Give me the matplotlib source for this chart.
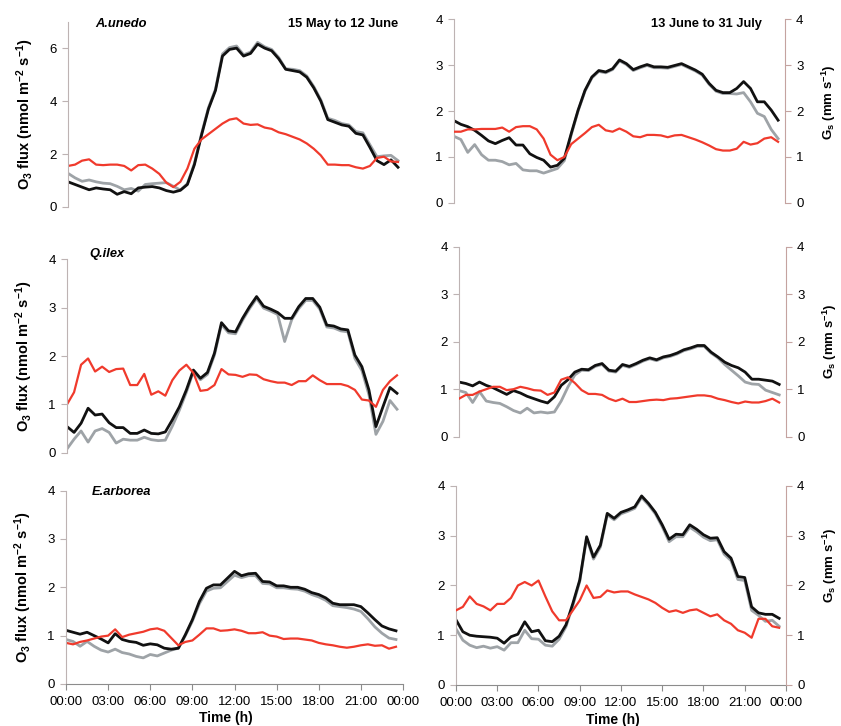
import matplotlib.pyplot as plt
import numpy as np

plt.rcParams['font.family'] = 'Liberation Sans'
plt.rcParams['mathtext.fontset'] = 'custom'
plt.rcParams['mathtext.rm'] = 'Liberation Sans'
plt.rcParams['mathtext.bf'] = 'Liberation Sans:bold'
plt.rcParams['mathtext.default'] = 'bf'

# half-hourly means, 00:00 .. 23:30
hours = np.arange(48) * 0.5
tick_hours = [0, 3, 6, 9, 12, 15, 18, 21, 24]
tick_labels = ['00:00', '03:00', '06:00', '09:00', '12:00', '15:00', '18:00', '21:00', '00:00']

# A. unedo, 15 May to 12 June
au1_total = [0.95, 0.85, 0.75, 0.65, 0.72, 0.68, 0.65, 0.48, 0.58, 0.50, 0.72, 0.75, 0.77, 0.72, 0.62, 0.56,
             0.63, 0.85, 1.60, 2.70, 3.70, 4.40, 5.70, 5.95, 6.00, 5.70, 5.80, 6.15, 6.00, 5.90, 5.60, 5.20,
             5.15, 5.10, 4.90, 4.50, 4.00, 3.30, 3.20, 3.10, 3.05, 2.78, 2.72, 2.25, 1.75, 1.60, 1.78, 1.50]
au1_stom = [1.27, 1.10, 0.97, 1.02, 0.95, 0.90, 0.88, 0.78, 0.65, 0.70, 0.60, 0.85, 0.88, 0.90, 0.92, 0.78,
            0.64, 0.88, 1.65, 2.75, 3.75, 4.45, 5.78, 6.02, 6.08, 5.75, 5.85, 6.22, 6.05, 5.95, 5.65, 5.22,
            5.20, 5.15, 4.95, 4.55, 4.05, 3.35, 3.27, 3.15, 3.10, 2.85, 2.80, 2.35, 1.90, 1.93, 1.95, 1.75]
au1_gs = [1.55, 1.60, 1.75, 1.80, 1.60, 1.58, 1.60, 1.60, 1.55, 1.38, 1.58, 1.60, 1.45, 1.25, 0.92, 0.75,
          0.95, 1.45, 2.20, 2.55, 2.75, 2.95, 3.15, 3.30, 3.35, 3.15, 3.10, 3.12, 3.00, 2.95, 2.82, 2.75,
          2.65, 2.55, 2.40, 2.20, 1.95, 1.60, 1.60, 1.58, 1.58, 1.50, 1.45, 1.55, 1.85, 1.90, 1.72, 1.70]

# A. unedo, 13 June to 31 July
au2_total = [1.79, 1.71, 1.66, 1.58, 1.47, 1.35, 1.29, 1.36, 1.42, 1.26, 1.26, 1.07, 0.99, 0.93, 0.78, 0.82,
             0.97, 1.51, 2.02, 2.45, 2.74, 2.88, 2.85, 2.92, 3.11, 3.03, 2.90, 2.96, 3.01, 2.96, 2.96, 2.95,
             2.99, 3.03, 2.96, 2.89, 2.80, 2.60, 2.45, 2.40, 2.40, 2.49, 2.64, 2.49, 2.20, 2.20, 2.02, 1.80]
au2_stom = [1.45, 1.38, 1.10, 1.27, 1.05, 0.93, 0.93, 0.90, 0.83, 0.86, 0.72, 0.70, 0.70, 0.65, 0.70, 0.75,
            0.92, 1.48, 2.00, 2.43, 2.72, 2.86, 2.83, 2.90, 3.09, 3.01, 2.88, 2.94, 2.99, 2.94, 2.94, 2.93,
            2.97, 3.01, 2.94, 2.87, 2.78, 2.58, 2.43, 2.38, 2.38, 2.37, 2.40, 2.20, 1.95, 1.88, 1.60, 1.40]
au2_gs = [1.55, 1.55, 1.60, 1.60, 1.61, 1.61, 1.61, 1.64, 1.55, 1.65, 1.67, 1.67, 1.60, 1.40, 1.05, 0.93,
          1.00, 1.28, 1.40, 1.52, 1.65, 1.70, 1.58, 1.55, 1.62, 1.55, 1.45, 1.43, 1.48, 1.48, 1.47, 1.43,
          1.47, 1.48, 1.43, 1.38, 1.32, 1.25, 1.17, 1.14, 1.14, 1.18, 1.33, 1.27, 1.30, 1.40, 1.43, 1.33]

# Q. ilex
qi1_total = [0.54, 0.42, 0.61, 0.92, 0.78, 0.80, 0.62, 0.52, 0.52, 0.40, 0.40, 0.47, 0.40, 0.39, 0.43, 0.68,
             0.95, 1.30, 1.71, 1.54, 1.66, 2.06, 2.69, 2.52, 2.50, 2.78, 3.02, 3.23, 3.03, 2.97, 2.90, 2.78,
             2.78, 3.02, 3.19, 3.19, 3.01, 2.64, 2.62, 2.56, 2.54, 2.02, 1.78, 1.30, 0.54, 0.95, 1.35, 1.23]
qi1_stom = [0.08, 0.28, 0.45, 0.22, 0.45, 0.50, 0.42, 0.20, 0.28, 0.26, 0.26, 0.32, 0.27, 0.25, 0.26, 0.55,
            0.88, 1.25, 1.68, 1.51, 1.62, 2.02, 2.65, 2.48, 2.46, 2.74, 2.98, 3.19, 2.99, 2.93, 2.86, 2.30,
            2.75, 2.98, 3.15, 3.15, 2.97, 2.60, 2.58, 2.52, 2.50, 1.95, 1.70, 1.20, 0.38, 0.65, 1.08, 0.90]
qi1_gs = [1.00, 1.25, 1.82, 1.95, 1.68, 1.78, 1.67, 1.73, 1.74, 1.40, 1.40, 1.63, 1.20, 1.27, 1.18, 1.50,
          1.70, 1.82, 1.65, 1.28, 1.30, 1.40, 1.73, 1.62, 1.61, 1.57, 1.62, 1.61, 1.52, 1.48, 1.45, 1.45,
          1.40, 1.48, 1.48, 1.60, 1.50, 1.42, 1.42, 1.42, 1.38, 1.30, 1.10, 1.08, 0.95, 1.30, 1.48, 1.60]

qi2_total = [1.15, 1.12, 1.07, 1.15, 1.08, 1.03, 0.96, 0.89, 0.97, 0.92, 0.85, 0.80, 0.75, 0.71, 0.84, 1.08,
             1.20, 1.36, 1.42, 1.41, 1.50, 1.54, 1.40, 1.38, 1.52, 1.48, 1.54, 1.61, 1.66, 1.62, 1.68, 1.71,
             1.76, 1.83, 1.87, 1.92, 1.92, 1.78, 1.68, 1.57, 1.50, 1.45, 1.36, 1.21, 1.21, 1.19, 1.17, 1.10]
qi2_stom = [0.97, 0.93, 0.72, 0.95, 0.75, 0.72, 0.70, 0.63, 0.55, 0.50, 0.60, 0.50, 0.52, 0.50, 0.52, 0.75,
            1.05, 1.30, 1.40, 1.39, 1.48, 1.52, 1.38, 1.36, 1.50, 1.46, 1.52, 1.59, 1.64, 1.60, 1.66, 1.69,
            1.74, 1.81, 1.85, 1.90, 1.90, 1.76, 1.66, 1.52, 1.40, 1.28, 1.15, 1.11, 1.10, 0.98, 0.93, 0.88]
qi2_gs = [0.80, 0.88, 0.88, 0.95, 1.00, 1.05, 1.05, 0.98, 1.00, 1.05, 1.02, 0.98, 0.97, 0.88, 0.93, 1.20,
          1.25, 1.13, 0.98, 0.90, 0.90, 0.88, 0.80, 0.75, 0.80, 0.73, 0.73, 0.75, 0.77, 0.78, 0.77, 0.80,
          0.81, 0.83, 0.85, 0.87, 0.87, 0.85, 0.80, 0.77, 0.73, 0.70, 0.74, 0.72, 0.72, 0.75, 0.80, 0.72]

# E. arborea
ea1_total = [1.11, 1.07, 1.03, 1.07, 1.00, 0.93, 0.85, 1.04, 0.92, 0.88, 0.86, 0.80, 0.83, 0.81, 0.74, 0.72,
             0.74, 1.02, 1.33, 1.71, 1.98, 2.05, 2.05, 2.19, 2.33, 2.24, 2.28, 2.29, 2.12, 2.11, 2.03, 2.03,
             2.00, 2.00, 1.96, 1.89, 1.85, 1.78, 1.67, 1.64, 1.64, 1.64, 1.60, 1.47, 1.33, 1.20, 1.14, 1.10]
ea1_stom = [0.92, 0.88, 0.78, 0.88, 0.78, 0.70, 0.66, 0.72, 0.65, 0.62, 0.57, 0.54, 0.61, 0.58, 0.64, 0.70,
            0.74, 1.00, 1.30, 1.66, 1.92, 1.98, 1.99, 2.12, 2.25, 2.20, 2.24, 2.24, 2.08, 2.07, 1.99, 1.99,
            1.97, 1.96, 1.92, 1.85, 1.80, 1.73, 1.62, 1.60, 1.58, 1.55, 1.50, 1.35, 1.18, 1.05, 0.95, 0.92]
ea1_gs = [0.85, 0.82, 0.87, 0.90, 0.94, 0.98, 1.00, 1.13, 0.97, 1.02, 1.05, 1.08, 1.13, 1.15, 1.10, 0.95,
          0.80, 0.87, 0.90, 1.02, 1.15, 1.15, 1.10, 1.11, 1.13, 1.10, 1.05, 1.05, 1.07, 1.00, 0.98, 0.93,
          0.94, 0.94, 0.92, 0.90, 0.85, 0.82, 0.80, 0.77, 0.75, 0.77, 0.80, 0.82, 0.79, 0.80, 0.73, 0.77]

ea2_total = [1.31, 1.07, 1.00, 0.98, 0.97, 0.96, 0.94, 0.84, 0.97, 1.02, 1.27, 1.07, 1.10, 0.89, 0.87, 0.98,
             1.21, 1.64, 2.11, 2.98, 2.57, 2.81, 3.45, 3.35, 3.47, 3.52, 3.58, 3.80, 3.65, 3.47, 3.22, 2.93,
             3.03, 3.02, 3.22, 3.13, 3.02, 2.95, 2.96, 2.68, 2.55, 2.18, 2.16, 1.57, 1.45, 1.42, 1.42, 1.34]
ea2_stom = [1.13, 0.90, 0.80, 0.75, 0.78, 0.74, 0.77, 0.70, 0.85, 0.85, 1.10, 0.93, 0.92, 0.80, 0.78, 0.92,
            1.17, 1.60, 2.08, 2.95, 2.53, 2.77, 3.42, 3.32, 3.44, 3.49, 3.55, 3.77, 3.62, 3.44, 3.18, 2.88,
            2.98, 2.98, 3.17, 3.08, 2.97, 2.90, 2.92, 2.63, 2.50, 2.12, 2.10, 1.50, 1.40, 1.28, 1.30, 1.18]
ea2_gs = [1.50, 1.57, 1.78, 1.63, 1.58, 1.50, 1.63, 1.63, 1.75, 2.00, 2.07, 2.00, 2.10, 1.78, 1.48, 1.30,
          1.30, 1.50, 1.70, 2.00, 1.75, 1.77, 1.90, 1.86, 1.88, 1.88, 1.82, 1.77, 1.72, 1.65, 1.55, 1.47,
          1.50, 1.45, 1.50, 1.52, 1.45, 1.38, 1.42, 1.30, 1.23, 1.10, 1.05, 0.95, 1.33, 1.33, 1.18, 1.15]

BLACK = '#111111'
GREY = '#9ea3a7'
RED = '#f03a2c'
LSPINE = '#bdb3b3'
RSPINE = '#c4a3a0'
BSPINE = '#8c8c8c'

O3_LABEL = r'O$_3$ flux (nmol m$^{-2}$ s$^{-1}$)'
GS_LABEL = r'G$_s$ (mm s$^{-1}$)'

fig = plt.figure(figsize=(8.41, 7.26), dpi=100)


def panel(rect, total, stom, gs, ymax, yticks, right, bottom, gs_label_y=0.5):
    ax = fig.add_axes(rect)
    ax.plot(hours, stom, color=GREY, lw=2.0)
    ax.plot(hours, total, color=BLACK, lw=2.0)
    ax.set_xlim(0, 24)
    ax.set_ylim(0, ymax)
    ax.set_yticks(yticks)
    ax.spines['top'].set_visible(False)
    ax.spines['right'].set_visible(False)
    ax.spines['left'].set_color(LSPINE)
    ax.tick_params(axis='y', colors=LSPINE, labelcolor='black', labelsize=9.5,
                   direction='out', length=4, pad=4)
    if bottom:
        ax.spines['bottom'].set_color(BSPINE)
        ax.set_xticks(tick_hours)
        ax.set_xticklabels(tick_labels)
        ax.tick_params(axis='x', colors=BSPINE, labelcolor='black', labelsize=9.5,
                       direction='out', length=4, pad=5)
        ax.set_xlabel('Time (h)', fontsize=10, fontweight='bold')
        ax.xaxis.set_label_coords(0.474, -0.142)
    else:
        ax.spines['bottom'].set_visible(False)
        ax.set_xticks([])
    if right:
        ax2 = ax.twinx()
        ax2.plot(hours, gs, color=RED, lw=1.6)
        ax2.set_ylim(0, 4)
        ax2.set_yticks([0, 1, 2, 3, 4])
        for s in ['top', 'left', 'bottom']:
            ax2.spines[s].set_visible(False)
        ax2.spines['right'].set_color(RSPINE)
        ax2.tick_params(axis='y', colors=RSPINE, labelcolor='black', labelsize=9.5,
                        direction='out', length=4, pad=4)
        ax2.set_ylabel(GS_LABEL, fontsize=9.5, fontweight='bold')
        ax2.yaxis.set_label_coords(1.106, gs_label_y)
    else:
        ax.plot(hours, gs, color=RED, lw=1.6)
        ax.set_ylabel(O3_LABEL, fontsize=10.5, fontweight='bold')
        ax.yaxis.set_label_coords(-0.096, 0.5)
    return ax


ax = panel([0.0809, 0.7149, 0.4007, 0.2553], au1_total, au1_stom, au1_gs, 7, [0, 2, 4, 6], False, False)
ax.text(0.08, 0.985, 'A.unedo', transform=ax.transAxes, fontsize=9.3, fontweight='bold',
        fontstyle='italic', va='center')
ax.text(0.979, 0.985, '15 May to 12 June', transform=ax.transAxes, fontsize=9.3, fontweight='bold',
        ha='right', va='center')

ax = panel([0.5398, 0.7204, 0.3936, 0.2534], au2_total, au2_stom, au2_gs, 4, [0, 1, 2, 3, 4], True, False, 0.55)
ax.text(0.93, 0.973, '13 June to 31 July', transform=ax.transAxes, fontsize=9.3, fontweight='bold',
        ha='right', va='center')

ax = panel([0.0797, 0.3764, 0.4007, 0.2664], qi1_total, qi1_stom, qi1_gs, 4, [0, 1, 2, 3, 4], False, False)
ax.text(0.065, 1.027, 'Q.ilex', transform=ax.transAxes, fontsize=9.3, fontweight='bold',
        fontstyle='italic', va='center')

panel([0.5458, 0.3985, 0.3888, 0.2617], qi2_total, qi2_stom, qi2_gs, 4, [0, 1, 2, 3, 4], True, False, 0.5)

ax = panel([0.0785, 0.0579, 0.4007, 0.2663], ea1_total, ea1_stom, ea1_gs, 4, [0, 1, 2, 3, 4], False, True)
ax.text(0.077, 0.993, 'E.arborea', transform=ax.transAxes, fontsize=9.3, fontweight='bold',
        fontstyle='italic', va='center')

panel([0.5422, 0.0565, 0.3924, 0.2741], ea2_total, ea2_stom, ea2_gs, 4, [0, 1, 2, 3, 4], True, True, 0.6)

fig.savefig('out.png', dpi=100)
